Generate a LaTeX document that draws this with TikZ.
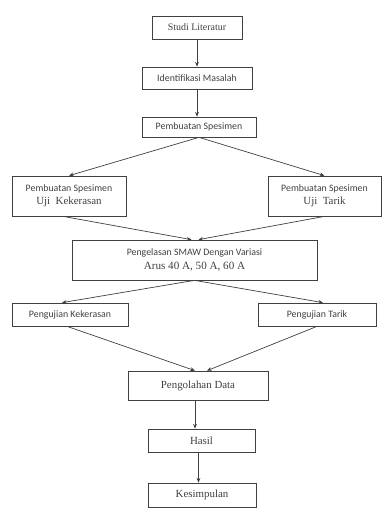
\documentclass[tikz,border=0pt]{standalone}
\usepackage{fontspec}
\setmainfont{Liberation Serif}
\newfontfamily\calfont{Carlito}
\usepackage{tikz}
\usetikzlibrary{calc,arrows.meta}
\definecolor{inkgray}{gray}{0.25}
\tikzset{
	box/.style={draw=inkgray, line width=0.6pt, text=inkgray, align=center, inner sep=1pt},
	serifbox/.style={box, font=\fontsize{9.3}{11}\selectfont},
	sansbox/.style={box, font=\calfont\fontsize{8.4}{10}\selectfont},
	flow/.style={draw=inkgray, line width=0.6pt, -{Stealth[length=4pt,width=3.2pt]}}
}

\begin{document}
\begin{tikzpicture}[x=0.03cm, y=-0.03cm]
		%%%%% START %%%%%
		
		\useasboundingbox (0, 0) rectangle (386, 519);
		
		\node[serifbox, font=\fontsize{8.5}{10}\selectfont, minimum width=2.7cm, minimum height=0.69cm] (studi) at (197, 27.5) {Studi Literatur};
		\node[sansbox, minimum width=3.3cm, minimum height=0.66cm] (identifikasi) at (197, 78) {Identifikasi Masalah};
		\node[sansbox, minimum width=3.42cm, minimum height=0.6cm] (spesimen) at (199, 127) {Pembuatan Spesimen};
		
		\node[sansbox, minimum width=3.42cm, minimum height=1.2cm] (spesimenkeras) at (69, 196) {Pembuatan Spesimen\\[1pt] {\rmfamily\fontsize{9.3}{11}\selectfont Uji\ \ Kekerasan}};
		\node[sansbox, minimum width=3.39cm, minimum height=1.2cm] (spesimentarik) at (324.5, 196) {Pembuatan Spesimen\\[1pt] {\rmfamily\fontsize{9.3}{11}\selectfont Uji\ \ Tarik}};
		
		\node[sansbox, minimum width=7.35cm, minimum height=1.2cm] (pengelasan) at (194.5, 260) {Pengelasan SMAW Dengan Variasi\\[2pt] {\rmfamily\fontsize{9.5}{11}\selectfont Arus 40 A, 50 A, 60 A}};
		
		\node[sansbox, minimum width=3.48cm, minimum height=0.69cm] (ujikeras) at (70, 314.5) {Pengujian Kekerasan};
		\node[sansbox, minimum width=3.54cm, minimum height=0.69cm] (ujitarik) at (317, 314.5) {Pengujian Tarik};
		
		\node[serifbox, minimum width=4.2cm, minimum height=0.87cm] (olahdata) at (198, 385.5) {Pengolahan Data};
		\node[serifbox, minimum width=3.21cm, minimum height=0.69cm] (hasil) at (201.5, 440.5) {Hasil};
		\node[serifbox, minimum width=3.24cm, minimum height=0.72cm] (kesimpulan) at (202, 495) {Kesimpulan};
		
		\draw[flow] (studi) -- (identifikasi);
		\draw[flow] (identifikasi) -- ($(spesimen.north)+(-2, 0)$);
		\draw[flow] (spesimen.south) -- (spesimenkeras.north);
		\draw[flow] (spesimen.south) -- (spesimentarik.north);
		
		\draw[flow] ($(spesimenkeras.south)+(-6, 0)$) -- ($(pengelasan.north)+(-3, 0)$);
		\draw[flow] (spesimentarik.south) -- ($(pengelasan.north)+(4, 0)$);
		
		\draw[flow] (pengelasan.south) -- ($(ujikeras.north)+(-8, 0)$);
		\draw[flow] (pengelasan.south) -- ($(ujitarik.north)+(6, 0)$);
		
		\draw[flow] ($(ujikeras.south)+(-3, 0)$) -- ($(olahdata.north)+(-3, 0)$);
		\draw[flow] ($(ujitarik.south)+(0, 0)$) -- ($(olahdata.north)+(9, 0)$);
		
		\draw[flow] ($(olahdata.south)+(-3, 0)$) -- ($(hasil.north)+(-6.5, 0)$);
		\draw[flow] ($(hasil.south)+(-3, 0)$) -- ($(kesimpulan.north)+(-3.5, 0)$);
		
		%%%%% END %%%%%
	\end{tikzpicture}
\end{document}
